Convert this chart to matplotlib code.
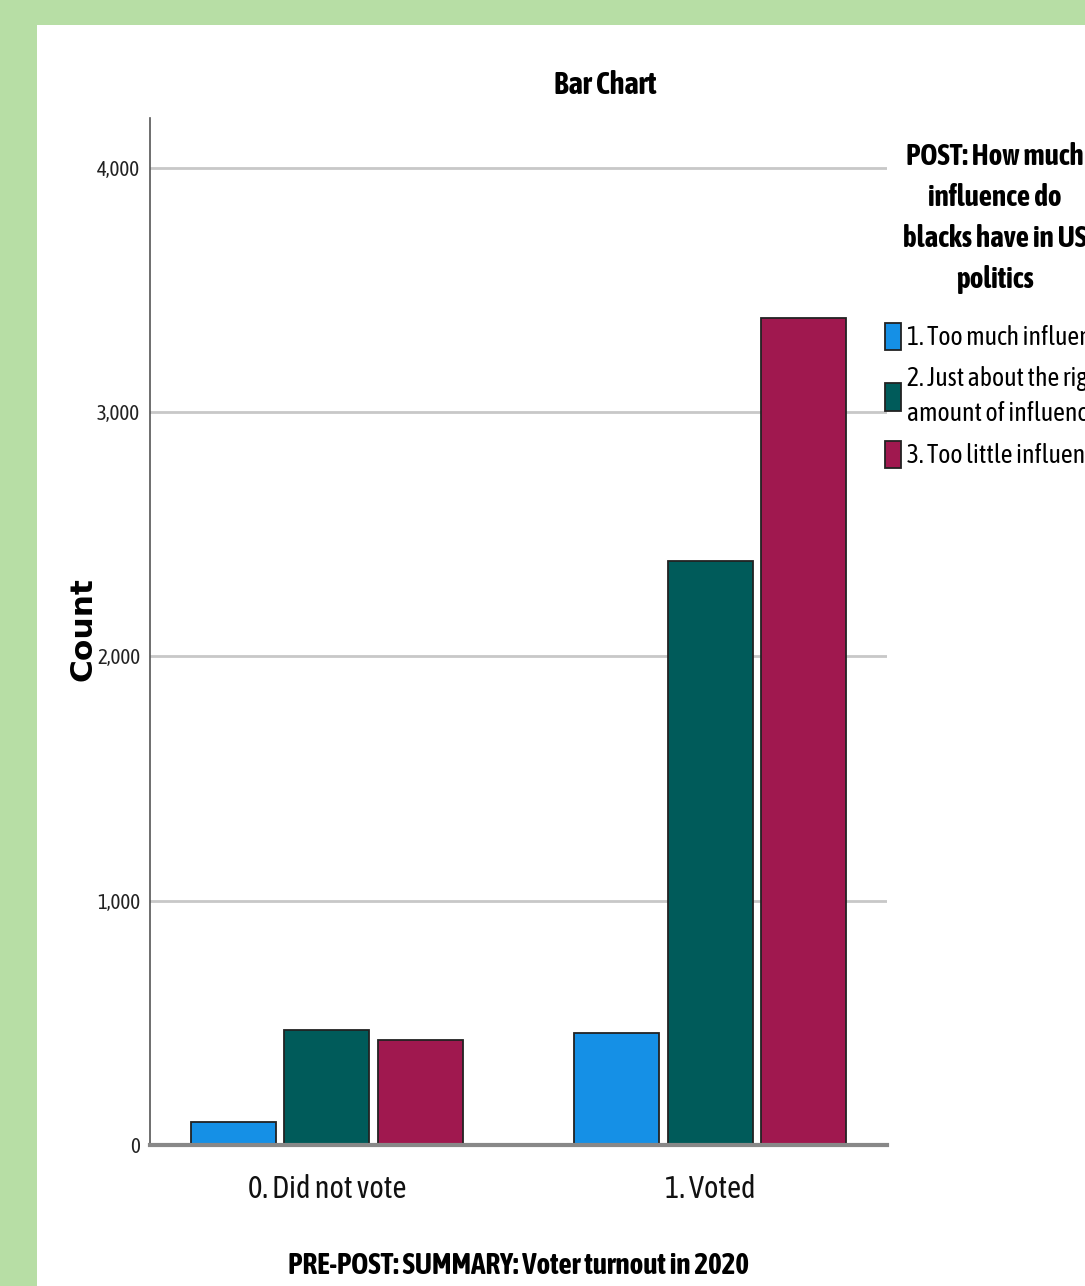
import matplotlib.pyplot as plt
from matplotlib.patches import Rectangle
import numpy as np

# data
turnout = ['0. Did not vote', '1. Voted']
influence = ['1. Too much influence', '2. Just about the right\namount of influence', '3. Too little influence']
counts = {
    influence[0]: [94, 458],
    influence[1]: [471, 2390],
    influence[2]: [430, 3385],
}
colors = ['#1590e6', '#005b5a', '#a0184f']
y_ticks = [0, 1000, 2000, 3000, 4000]

narrow = ['Asap Condensed', 'Barlow Condensed', 'DejaVu Sans']

W, H = 1085, 1286
fig = plt.figure(figsize=(W / 100, H / 100), dpi=100)
fig.patch.set_facecolor('#b7dea5')
fig.add_artist(Rectangle((37 / W, 0), 1, 1 - 25 / H, transform=fig.transFigure,
                         facecolor='white', edgecolor='none', zorder=0))

ax = fig.add_axes([150 / W, 1 - 1145 / H, 737 / W, (1145 - 118) / H])
ax.set_facecolor('white')

x = np.arange(len(turnout))
width = 0.222
step = 0.245
for i, label in enumerate(influence):
    ax.bar(x + (i - 1) * step, counts[label], width, color=colors[i],
           edgecolor='#222222', linewidth=1.3, label=label, zorder=3)

ax.set_xlim(-0.462, 1.462)
ax.set_ylim(0, 4204)
ax.set_yticks(y_ticks)
ax.set_yticklabels([f'{v:,}' for v in y_ticks], fontfamily=narrow, fontsize=15, color='#222222')
ax.set_xticks(x)
ax.set_xticklabels(turnout, fontfamily=narrow, fontsize=22, color='#111111')
ax.tick_params(axis='both', length=0)
ax.tick_params(axis='y', pad=7)
ax.tick_params(axis='x', pad=21)
ax.yaxis.grid(True, color='#c8c8c8', linewidth=2, zorder=0)
ax.set_axisbelow(True)

for s in ['top', 'right']:
    ax.spines[s].set_visible(False)
ax.spines['left'].set_color('#555555')
ax.spines['left'].set_linewidth(1.2)
ax.spines['bottom'].set_color('#888888')
ax.spines['bottom'].set_linewidth(3)
ax.spines['bottom'].set_zorder(4)

fig.text(605 / W, 1 - 86 / H, 'Bar Chart', ha='center', va='center',
         fontfamily=narrow, fontweight='bold', fontsize=22)
fig.text(518 / W, 1 - 1265 / H, 'PRE-POST: SUMMARY: Voter turnout in 2020', ha='center', va='center',
         fontfamily=narrow, fontweight='bold', fontsize=21)
fig.text(83 / W, 1 - 629 / H, 'Count', ha='center', va='center', rotation=90,
         fontweight='bold', fontsize=22.5)

fig.text(995 / W, 1 - 218 / H, 'POST: How much\ninfluence do\nblacks have in US\npolitics',
         ha='center', va='center', fontfamily=narrow, fontweight='bold', fontsize=21, linespacing=1.52)

leg = fig.legend(loc='upper left', bbox_to_anchor=(885 / W, 1 - 323 / H), frameon=False,
                 prop={'family': narrow, 'size': 18.5}, handlelength=0.62, handleheight=1.25,
                 handletextpad=0.22, labelspacing=0.6, borderpad=0, borderaxespad=0)
for t in leg.get_texts():
    t.set_linespacing(1.5)

fig.savefig('out.png', dpi=100, facecolor=fig.get_facecolor())
